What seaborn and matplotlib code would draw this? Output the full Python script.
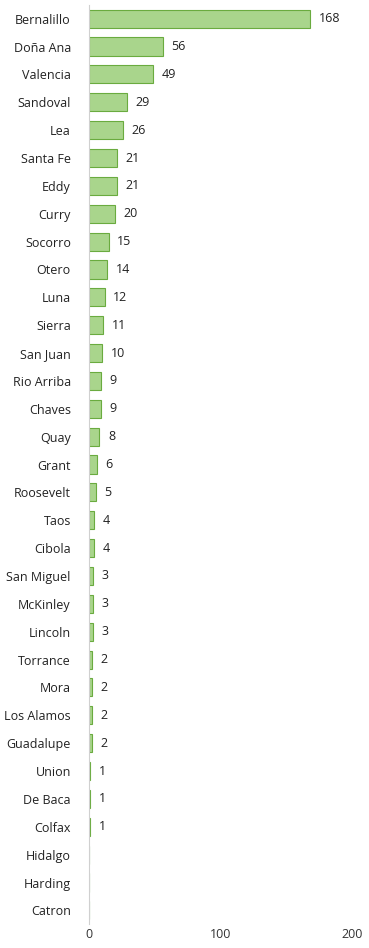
import matplotlib
matplotlib.use("Agg")
import matplotlib.pyplot as plt
import seaborn as sns
import pandas as pd

counties = ["Bernalillo", "Doña Ana", "Valencia", "Sandoval", "Lea", "Santa Fe", "Eddy",
            "Curry", "Socorro", "Otero", "Luna", "Sierra", "San Juan", "Rio Arriba", "Chaves",
            "Quay", "Grant", "Roosevelt", "Taos", "Cibola", "San Miguel", "McKinley", "Lincoln",
            "Torrance", "Mora", "Los Alamos", "Guadalupe", "Union", "De Baca", "Colfax",
            "Hidalgo", "Harding", "Catron"]
values = [168, 56, 49, 29, 26, 21, 21, 20, 15, 14, 12, 11, 10, 9, 9, 8, 6, 5, 4, 4, 3, 3, 3,
          2, 2, 2, 2, 1, 1, 1, 0, 0, 0]
xticks = [0, 100, 200]

df = pd.DataFrame({"county": counties, "value": values})

sns.set_theme(style="white")
plt.rcParams["font.family"] = ["Open Sans", "DejaVu Sans"]

fig = plt.figure(figsize=(3.69, 9.48), dpi=100)
ax = fig.add_axes([0.241, 0.025, 0.713, 0.97])
sns.barplot(data=df, y="county", x="value", orient="h", color="#a9d58c",
            edgecolor="#6aab3f", linewidth=0.8, width=0.65, saturation=1, ax=ax)

for i, v in enumerate(values):
    if v > 0:
        ax.text(v + 6.5, i, str(v), va="center", ha="left", fontsize=9, color="#222222")

ax.set_xlim(0, 200)
ax.set_ylim(len(counties) - 0.5, -0.5)
ax.set_xticks(xticks)
ax.set_xticklabels([str(t) for t in xticks], fontsize=9, color="#333333")
ax.tick_params(axis="y", labelsize=9, colors="#222222", length=0, pad=13)
ax.tick_params(axis="x", length=0, pad=3)
ax.set_xlabel("")
ax.set_ylabel("")
for s in ["top", "right", "bottom"]:
    ax.spines[s].set_visible(False)
ax.spines["left"].set_color("#d0d0d0")
ax.spines["left"].set_linewidth(0.8)

fig.savefig("out.png", dpi=100)
